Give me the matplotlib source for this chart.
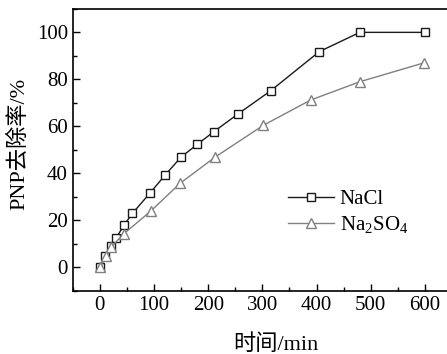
import matplotlib
matplotlib.use("Agg")
import matplotlib.pyplot as plt
from matplotlib.ticker import MultipleLocator

plt.rcParams['font.family'] = ['Liberation Serif', 'Noto Sans CJK SC']
plt.rcParams['mathtext.fontset'] = 'custom'
plt.rcParams['mathtext.rm'] = 'Liberation Serif'

t_nacl = [0, 10, 20, 30, 45, 60, 93, 120, 150, 180, 210, 255, 315, 405, 480, 600]
r_nacl = [0, 5, 9, 12.6, 18.2, 23, 31.8, 39.2, 47, 52.4, 57.7, 65.3, 75.1, 91.8, 100, 100]

t_na2so4 = [0, 12, 20, 44, 94, 148, 213, 302, 389, 480, 598]
r_na2so4 = [0, 5, 8.5, 14.3, 24, 35.8, 47, 60.5, 71.2, 79, 87]

xticks = [0, 100, 200, 300, 400, 500, 600]
yticks = [0, 20, 40, 60, 80, 100]

fig = plt.figure(figsize=(4.47, 3.54), dpi=100)
ax = fig.add_axes([0.163, 0.178, 0.848, 0.797])

ax.plot(t_nacl, r_nacl, color='#1a1a1a', lw=1.0, marker='s', ms=6,
        mfc='white', mec='#1a1a1a', mew=1.0, label='NaCl')
ax.plot(t_na2so4, r_na2so4, color='#808080', lw=1.0, marker='^', ms=7,
        mfc='white', mec='#808080', mew=1.0, label=r'Na$_2$SO$_4$')

ax.set_xlim(-50, 650)
ax.set_ylim(-10, 110)
ax.set_xticks(xticks)
ax.set_yticks(yticks)
ax.xaxis.set_minor_locator(MultipleLocator(50))
ax.yaxis.set_minor_locator(MultipleLocator(10))
ax.tick_params(which='both', direction='in', labelsize=15, top=False, right=False)
ax.tick_params(which='major', length=5, width=1)
ax.tick_params(which='minor', length=3, width=1)
for s in ax.spines.values():
    s.set_linewidth(1.2)

ax.set_xlabel('时间/min', fontsize=16, fontweight='light')
ax.xaxis.set_label_coords(0.535, -0.155)
ax.set_ylabel('PNP去除率/%', fontsize=16, fontweight='light')
ax.yaxis.set_label_coords(-0.115, 0.52)

ax.legend(loc='upper left', bbox_to_anchor=(0.545, 0.39), frameon=False,
          fontsize=15, handlelength=2.2, handletextpad=0.3, labelspacing=0.25,
          borderaxespad=0)

fig.savefig('out.png', dpi=100)
